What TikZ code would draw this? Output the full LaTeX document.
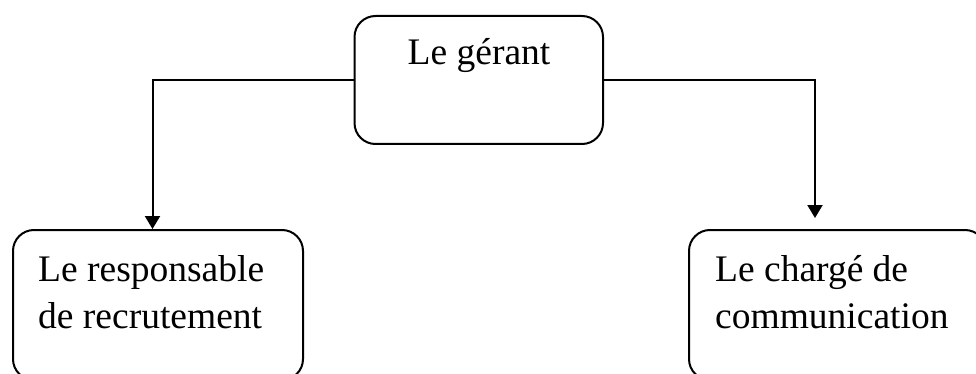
\documentclass[tikz,border=0pt]{standalone}
\usepackage{fontspec}
\setmainfont{Liberation Serif}
\usetikzlibrary{arrows.meta}
\begin{document}
\begin{tikzpicture}[x=1pt,y=-1pt,
  box/.style={draw,line width=2pt,rounded corners=21pt,inner sep=0pt},
  lbl/.style={inner sep=0pt,align=left,font=\fontsize{37.5}{47}\selectfont},
  conn/.style={line width=2pt,-{Triangle[width=15pt,length=13pt]}}]
\useasboundingbox (0,0) rectangle (976,374);
\clip (0,0) rectangle (976,374);
\node[box,minimum width=248.5pt,minimum height=128pt,anchor=north west] (top) at (353.5,15) {};
\node[box,minimum width=290pt,minimum height=150pt,anchor=north west] (left) at (12,229) {};
\node[box,minimum width=297pt,minimum height=150pt,anchor=north west] (right) at (688,229) {};
\node[lbl,anchor=base] (toptext) at (479,65) {Le gérant};
\node[lbl,anchor=base west] (lefttext) at (38,328) {Le responsable\\de recrutement};
\node[lbl,anchor=base west] (righttext) at (715,328) {Le chargé de\\communication};
\coordinate (ltip) at (152.5,229);
\coordinate (rtip) at (815,218);
\draw[conn] (top.west) -| (ltip);
\draw[conn] (top.east) -| (rtip);
\end{tikzpicture}
\end{document}
